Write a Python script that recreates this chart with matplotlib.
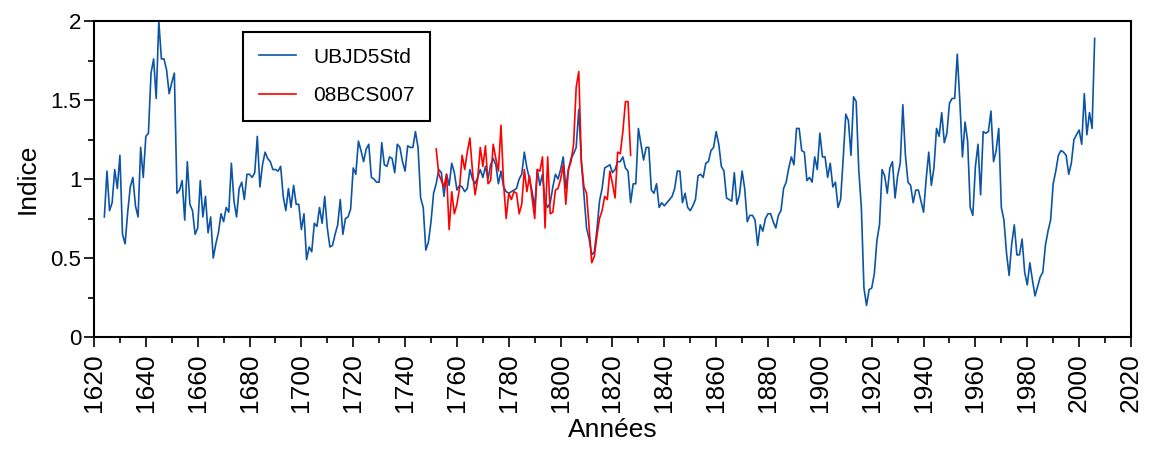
import matplotlib
matplotlib.use('Agg')
import matplotlib.pyplot as plt
import matplotlib.ticker as mticker
import numpy as np

plt.rcParams['font.family'] = ['Liberation Sans', 'DejaVu Sans']

# Blue series: one value per year, starting in 1624
UBJD_START = 1624
UBJD_VALUES = [
    0.76, 1.05, 0.80, 0.85, 1.06, 0.94, 1.15, 0.65, 0.59, 0.79,
    0.95, 1.01, 0.83, 0.76, 1.20, 1.01, 1.27, 1.29, 1.67, 1.76,
    1.51, 2.00, 1.76, 1.76, 1.69, 1.54, 1.61, 1.67, 0.91, 0.93,
    0.99, 0.74, 1.11, 0.84, 0.80, 0.65, 0.69, 0.99, 0.76, 0.89,
    0.66, 0.76, 0.50, 0.59, 0.66, 0.78, 0.73, 0.82, 0.79, 1.10,
    0.86, 0.76, 0.94, 0.98, 0.87, 1.03, 1.03, 1.01, 1.04, 1.27,
    0.95, 1.09, 1.17, 1.13, 1.11, 1.06, 1.06, 1.05, 1.08, 0.89,
    0.80, 0.94, 0.82, 0.96, 0.84, 0.84, 0.68, 0.78, 0.49, 0.57,
    0.54, 0.72, 0.70, 0.82, 0.72, 0.89, 0.69, 0.57, 0.58, 0.65,
    0.71, 0.87, 0.65, 0.75, 0.76, 0.81, 1.07, 1.03, 1.24, 1.18,
    1.11, 1.19, 1.22, 1.01, 1.00, 0.98, 0.98, 1.23, 1.09, 1.08,
    1.14, 1.13, 1.04, 1.22, 1.20, 1.11, 1.05, 1.21, 1.20, 1.20,
    1.30, 1.20, 0.88, 0.82, 0.55, 0.60, 0.73, 0.91, 0.97, 1.06,
    1.04, 0.89, 1.03, 0.96, 1.10, 1.04, 0.93, 0.96, 0.95, 0.92,
    0.94, 1.06, 1.00, 0.97, 1.01, 1.06, 1.01, 1.08, 1.00, 1.09,
    1.13, 1.09, 0.97, 1.05, 0.95, 0.92, 0.91, 0.92, 0.93, 0.94,
    1.00, 1.03, 1.17, 1.07, 1.00, 0.92, 0.82, 1.06, 0.96, 1.03,
    0.86, 0.82, 0.85, 0.95, 1.03, 1.00, 1.06, 1.14, 0.94, 1.06,
    1.13, 1.16, 1.20, 1.44, 1.11, 0.90, 0.69, 0.62, 0.52, 0.54,
    0.68, 0.86, 0.94, 1.07, 1.08, 1.09, 1.04, 1.06, 1.11, 1.11,
    1.14, 1.07, 1.05, 0.85, 0.97, 0.97, 1.32, 1.22, 1.12, 1.20,
    1.20, 0.93, 0.91, 0.97, 0.82, 0.85, 0.83, 0.85, 0.87, 0.89,
    0.94, 1.05, 1.05, 0.85, 0.91, 0.82, 0.80, 0.83, 0.87, 1.02,
    1.03, 1.01, 1.10, 1.11, 1.18, 1.20, 1.30, 1.22, 1.08, 1.05,
    0.88, 0.87, 0.86, 1.04, 0.84, 0.90, 1.05, 0.94, 0.73, 0.77,
    0.77, 0.74, 0.58, 0.71, 0.67, 0.75, 0.78, 0.78, 0.73, 0.69,
    0.77, 0.80, 0.94, 0.98, 1.07, 1.14, 1.09, 1.32, 1.32, 1.18,
    1.17, 0.99, 1.01, 0.98, 1.14, 1.06, 1.29, 1.14, 1.14, 1.01,
    1.10, 0.95, 0.98, 0.82, 0.87, 1.13, 1.41, 1.37, 1.15, 1.52,
    1.49, 1.06, 0.82, 0.31, 0.20, 0.30, 0.31, 0.40, 0.61, 0.71,
    1.06, 1.02, 0.91, 1.07, 1.11, 0.88, 1.02, 1.10, 1.47, 1.15,
    0.98, 0.96, 0.85, 0.93, 0.93, 0.86, 0.79, 1.00, 1.17, 0.96,
    1.07, 1.32, 1.27, 1.42, 1.23, 1.29, 1.48, 1.51, 1.51, 1.79,
    1.49, 1.14, 1.36, 1.24, 0.82, 0.77, 1.08, 1.22, 0.90, 1.30,
    1.29, 1.30, 1.43, 1.11, 1.18, 1.32, 0.82, 0.74, 0.53, 0.39,
    0.59, 0.71, 0.52, 0.52, 0.62, 0.41, 0.33, 0.47, 0.36, 0.26,
    0.32, 0.38, 0.41, 0.58, 0.67, 0.74, 0.97, 1.05, 1.15, 1.18,
    1.17, 1.15, 1.03, 1.10, 1.25, 1.28, 1.31, 1.22, 1.54, 1.28,
    1.42, 1.32, 1.89,
]

# Red series: one value per year, starting in 1752
BCS_START = 1752
BCS_VALUES = [
    1.19, 1.03, 0.99, 0.95, 1.03, 0.68, 0.92, 0.78, 0.84, 0.94,
    1.15, 1.06, 1.17, 1.26, 1.05, 0.90, 1.00, 1.20, 1.08, 1.21,
    0.97, 0.99, 1.22, 1.13, 1.05, 1.34, 0.97, 0.75, 0.91, 0.87,
    0.92, 0.91, 0.78, 0.84, 1.06, 0.92, 1.02, 0.88, 0.75, 1.06,
    1.05, 1.14, 0.69, 1.14, 0.78, 0.79, 0.93, 0.94, 1.00, 1.09,
    0.84, 1.06, 1.11, 1.22, 1.58, 1.68, 1.11, 0.95, 0.91, 0.69,
    0.47, 0.51, 0.64, 0.75, 0.80, 0.89, 0.87, 1.05, 0.97, 0.88,
    1.17, 1.16, 1.30, 1.49, 1.49, 1.15,
]

SERIES_LABELS = ['UBJD5Std', '08BCS007']
X_LABEL = 'Années'
Y_LABEL = 'Indice'

ubjd_years = UBJD_START + np.arange(len(UBJD_VALUES))
bcs_years = BCS_START + np.arange(len(BCS_VALUES))

fig = plt.figure(figsize=(11.49, 4.49), dpi=100)
ax = fig.add_axes([0.0818, 0.2494, 0.9025, 0.7038])

ax.plot(ubjd_years, UBJD_VALUES, color='#0b54a6', lw=1.2, label=SERIES_LABELS[0])
ax.plot(bcs_years, BCS_VALUES, color='#ff0000', lw=1.2, label=SERIES_LABELS[1])

ax.set_xlim(1620, 2020)
ax.set_ylim(0, 2)

ax.xaxis.set_major_locator(mticker.MultipleLocator(20))
ax.xaxis.set_minor_locator(mticker.MultipleLocator(10))
ax.yaxis.set_major_locator(mticker.MultipleLocator(0.5))
ax.yaxis.set_minor_locator(mticker.MultipleLocator(0.25))
ax.yaxis.set_major_formatter(mticker.FuncFormatter(lambda v, p: f'{v:g}'))

ax.tick_params(which='both', direction='out', width=1.2, top=False, right=False)
ax.tick_params(which='major', length=7)
ax.tick_params(which='minor', length=4.5)
ax.tick_params(axis='y', labelsize=16, pad=2)
ax.tick_params(axis='x', labelsize=19, pad=5, labelrotation=90)

for sp in ax.spines.values():
    sp.set_linewidth(1.5)

ax.set_xlabel(X_LABEL, fontsize=19, labelpad=4)
ax.set_ylabel(Y_LABEL, fontsize=19, labelpad=8)

leg = ax.legend(loc='upper left', bbox_to_anchor=(0.144, 0.965), fontsize=15,
                fancybox=False, framealpha=1, edgecolor='black',
                handlelength=1.8, handletextpad=0.8, labelspacing=0.95,
                borderpad=0.75, borderaxespad=0)
leg.get_frame().set_linewidth(1.5)

fig.savefig('out.png', dpi=100)
